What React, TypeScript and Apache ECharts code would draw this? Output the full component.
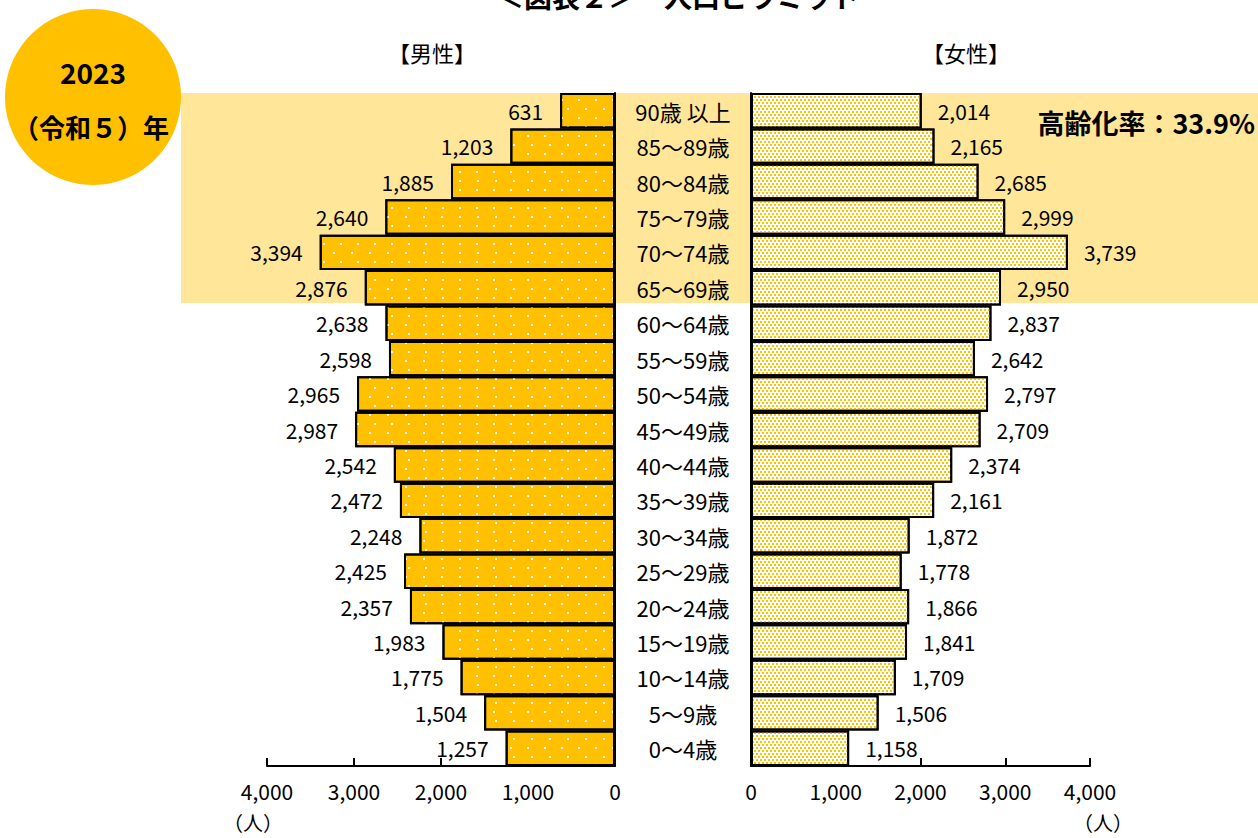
import React, { useEffect, useRef } from "react";
import * as echarts from "echarts";

// Age groups, top row first
const ageGroups = [
  "90歳 以上",
  "85〜89歳",
  "80〜84歳",
  "75〜79歳",
  "70〜74歳",
  "65〜69歳",
  "60〜64歳",
  "55〜59歳",
  "50〜54歳",
  "45〜49歳",
  "40〜44歳",
  "35〜39歳",
  "30〜34歳",
  "25〜29歳",
  "20〜24歳",
  "15〜19歳",
  "10〜14歳",
  "5〜9歳",
  "0〜4歳",
];

const male = [
  631, 1203, 1885, 2640, 3394, 2876, 2638, 2598, 2965, 2987, 2542, 2472, 2248,
  2425, 2357, 1983, 1775, 1504, 1257,
];

const female = [
  2014, 2165, 2685, 2999, 3739, 2950, 2837, 2642, 2797, 2709, 2374, 2161, 1872,
  1778, 1866, 1841, 1709, 1506, 1158,
];

const axisTicks = [0, 1000, 2000, 3000, 4000];

const FONT = "'Noto Sans CJK JP', 'Noto Sans', sans-serif";
const GOLD = "#FFC000";
const BAND = "#FFE699";

const fmt = (v: number) => String(v).replace(/\B(?=(\d{3})+(?!\d))/g, ",");

export default function App() {
  const ref = useRef<HTMLDivElement>(null);

  useEffect(() => {
    document.body.style.margin = "0";
    if (!ref.current) return;
    const chart = echarts.init(ref.current, undefined, { renderer: "svg" });

    const gridTop = 93;
    const gridHeight = 673;

    const valueAxis = (gridIndex: number, inverse: boolean) => ({
      type: "value" as const,
      gridIndex,
      inverse,
      min: axisTicks[0],
      max: axisTicks[axisTicks.length - 1],
      interval: 1000,
      splitLine: { show: false },
      axisLine: { show: true, lineStyle: { color: "#000", width: 2 } },
      axisTick: {
        show: true,
        inside: true,
        length: 8,
        lineStyle: { color: "#000", width: 2 },
      },
      axisLabel: {
        color: "#000",
        fontSize: 21,
        fontFamily: FONT,
        margin: 14,
        formatter: (v: number) => fmt(v),
      },
    });

    const plainText = (x: number, y: number, text: string, fontSize: number, extra: any = {}) => ({
      type: "text",
      x,
      y,
      style: {
        text,
        fontSize,
        fontFamily: FONT,
        fill: "#000",
        align: "center",
        verticalAlign: "middle",
        ...extra,
      },
    });

    chart.setOption({
      animation: false,
      backgroundColor: "#fff",
      textStyle: { fontFamily: FONT },
      grid: [
        { left: 267, top: gridTop, width: 348, height: gridHeight },
        { left: 751, top: gridTop, width: 339, height: gridHeight },
      ],
      xAxis: [valueAxis(0, true), valueAxis(1, false)],
      yAxis: [
        {
          type: "category",
          gridIndex: 0,
          position: "right",
          inverse: true,
          data: ageGroups,
          axisLine: { show: true, lineStyle: { color: "#000", width: 2 } },
          axisTick: { show: false },
          axisLabel: { show: false },
        },
        {
          type: "category",
          gridIndex: 1,
          position: "left",
          inverse: true,
          data: ageGroups,
          axisLine: { show: true, lineStyle: { color: "#000", width: 2 } },
          axisTick: { show: false },
          axisLabel: {
            color: "#000",
            fontSize: 22,
            fontFamily: FONT,
            align: "center",
            margin: 68,
          },
        },
      ],
      series: [
        {
          name: "男性",
          type: "bar",
          xAxisIndex: 0,
          yAxisIndex: 0,
          data: male,
          barCategoryGap: "0%",
          itemStyle: {
            color: GOLD,
            borderColor: "#000",
            borderWidth: 2,
            decal: {
              symbol: "rect",
              symbolSize: 1,
              color: "#ffffff",
              dashArrayX: [
                [2, 15],
                [0, 8.5, 2, 6.5],
              ],
              dashArrayY: [2, 6.5],
            },
          },
          label: {
            show: true,
            position: "left",
            distance: 17,
            color: "#000",
            fontSize: 21,
            fontFamily: FONT,
            formatter: (p: any) => fmt(p.value),
          },
        },
        {
          name: "女性",
          type: "bar",
          xAxisIndex: 1,
          yAxisIndex: 1,
          data: female,
          barCategoryGap: "0%",
          itemStyle: {
            color: "#ffffff",
            borderColor: "#000",
            borderWidth: 2,
            decal: {
              symbol: "rect",
              symbolSize: 1,
              color: GOLD,
              dashArrayX: [
                [2, 2],
                [0, 2, 2, 0],
              ],
              dashArrayY: [2, 1],
            },
          },
          label: {
            show: true,
            position: "right",
            distance: 16,
            color: "#000",
            fontSize: 21,
            fontFamily: FONT,
            formatter: (p: any) => fmt(p.value),
          },
        },
      ],
      graphic: [
        // band behind the 65+ rows
        {
          type: "rect",
          z: -10,
          silent: true,
          shape: { x: 181, y: 93, width: 1077, height: 210 },
          style: { fill: BAND },
        },
        plainText(678, -4, "＜図表２＞　人口ピラミッド", 28, { fontWeight: "bold" }),
        {
          type: "circle",
          shape: { cx: 93, cy: 97, r: 88 },
          style: { fill: GOLD },
        },
        plainText(93, 72, "2023", 28, { fontWeight: "bold" }),
        plainText(91, 126, "（令和５）年", 26, { fontWeight: "bold" }),
        plainText(432, 52, "【男性】", 22),
        plainText(966, 52, "【女性】", 22),
        plainText(1255, 122, "高齢化率：33.9%", 27, {
          fontWeight: "bold",
          align: "right",
        }),
        plainText(253, 822, "（人）", 20),
        plainText(1103, 822, "（人）", 20),
      ],
    });

    return () => chart.dispose();
  }, []);

  return <div ref={ref} style={{ width: 1258, height: 838 }} />;
}
